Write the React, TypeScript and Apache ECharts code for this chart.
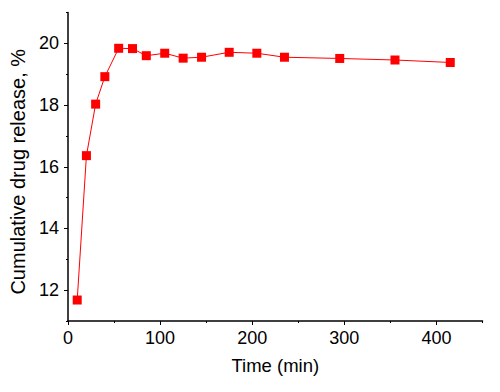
import React, { useEffect, useRef } from "react";
import * as echarts from "echarts";

const timeMin = [10, 20, 30, 40, 55, 70, 85, 105, 125, 145, 175, 205, 235, 295, 355, 415];
const releasePct = [11.68, 16.36, 18.03, 18.92, 19.84, 19.83, 19.6, 19.68, 19.52, 19.55, 19.71, 19.68, 19.55, 19.51, 19.46, 19.38];

const FONT = "Liberation Sans, Arial, sans-serif";

export default function App() {
  const ref = useRef<HTMLDivElement>(null);
  useEffect(() => {
    if (!ref.current) return;
    const chart = echarts.init(ref.current, undefined, { renderer: "svg" });
    const axisLine = { show: true, lineStyle: { color: "#000", width: 1.5 } };
    chart.setOption({
      animation: false,
      backgroundColor: "#fff",
      grid: { left: 67.5, right: 17.5, top: 12.5, bottom: 71, containLabel: false },
      xAxis: [
        {
          type: "value",
          min: 0,
          max: 450,
          interval: 100,
          name: "Time (min)",
          nameLocation: "middle",
          nameGap: 35,
          nameTextStyle: { color: "#000", fontSize: 18.5, fontFamily: FONT },
          axisLine,
          axisTick: { show: true, length: 4, lineStyle: { color: "#000", width: 1 } },
          axisLabel: {
            color: "#000",
            fontSize: 18,
            fontFamily: FONT,
            margin: 8,
            showMaxLabel: false,
          },
          splitLine: { show: false },
        },
        {
          type: "value",
          min: 0,
          max: 450,
          interval: 50,
          position: "bottom",
          axisLine: { show: false },
          axisTick: { show: true, length: 2, lineStyle: { color: "#000", width: 1 } },
          axisLabel: { show: false },
          splitLine: { show: false },
        },
      ],
      yAxis: [
        {
          type: "value",
          min: 11,
          max: 21,
          splitNumber: 5,
          name: "Cumulative drug release, %",
          nameLocation: "middle",
          nameGap: 40,
          nameTextStyle: {
            color: "#000",
            fontSize: 20,
            fontFamily: FONT,
            padding: [0, 10, 0, 0],
          },
          axisLine,
          axisTick: { show: true, length: 4, lineStyle: { color: "#000", width: 1 } },
          axisLabel: {
            color: "#000",
            fontSize: 18,
            fontFamily: FONT,
            margin: 9,
            showMinLabel: false,
            showMaxLabel: false,
          },
          splitLine: { show: false },
        },
        {
          type: "value",
          min: 11,
          max: 21,
          interval: 1,
          position: "left",
          axisLine: { show: false },
          axisTick: { show: true, length: 2, lineStyle: { color: "#000", width: 1 } },
          axisLabel: { show: false },
          splitLine: { show: false },
        },
      ],
      series: [
        {
          type: "line",
          xAxisIndex: 0,
          yAxisIndex: 0,
          data: timeMin.map((t, i) => [t, releasePct[i]]),
          symbol: "rect",
          symbolSize: 9,
          itemStyle: { color: "#ff0000" },
          lineStyle: { color: "#ff0000", width: 1 },
        },
      ],
    });
    return () => chart.dispose();
  }, []);
  return <div ref={ref} style={{ width: 500, height: 392, margin: -8 }} />;
}
